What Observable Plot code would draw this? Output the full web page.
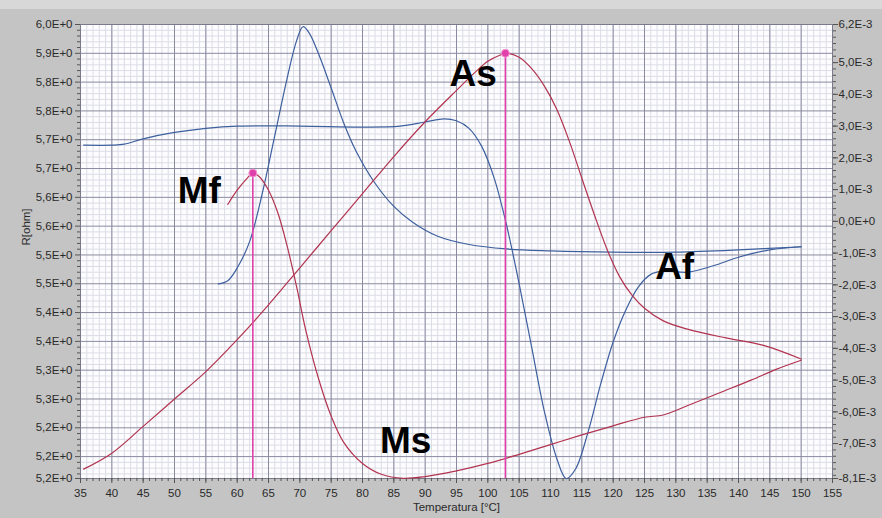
<!DOCTYPE html>
<html><head><meta charset="utf-8">
<script src="https://cdn.jsdelivr.net/npm/d3@7"></script>
<script src="https://cdn.jsdelivr.net/npm/@observablehq/plot@0.6"></script>
<style>
html,body{margin:0;padding:0;}
body{width:882px;height:518px;overflow:hidden;background:linear-gradient(#d8d8d8 0,#d8d8d8 9px,#c4c4c4 9px);}
</style></head><body><div id="chart"></div>
<script>
// ---- data: resistance (left axis, ohm) ----
const heatT = [35.5,40,45,50,55,60,65,70,75,80,85,90,95,98,100,102,103,105,107,109,111,113,115,117,119,121,123,125,128,132,138,144,150];
const heatR = [5.171,5.199,5.246,5.294,5.342,5.398,5.459,5.524,5.589,5.654,5.719,5.780,5.835,5.867,5.886,5.897,5.900,5.893,5.873,5.843,5.802,5.746,5.681,5.617,5.557,5.509,5.476,5.453,5.431,5.416,5.401,5.388,5.364];
const coolT = [58.5,60,61.5,62.5,63.5,65,66.5,68,69.5,71,73,75,77,80,83,86.5,90,95,100,105,110,115,120,125,128,132,137,142,146,150];
const coolR = [5.635,5.660,5.680,5.690,5.684,5.660,5.620,5.561,5.490,5.412,5.329,5.264,5.218,5.181,5.162,5.155,5.158,5.168,5.181,5.197,5.214,5.231,5.247,5.262,5.266,5.283,5.305,5.327,5.346,5.362];
// ---- data: derivative (right axis, E-3) ----
const heatDT = [35.5,40,42,45,50,55,60,70,80,86,90,93,95,97,99,101,103,105,107,109,111,112.5,114,116,118,120,122,124,126,128,132,136,140,145,150];
const heatD = [2.4,2.4,2.43,2.6,2.8,2.93,3.0,3.0,2.97,3.0,3.13,3.23,3.17,2.93,2.37,1.37,-0.13,-1.97,-3.97,-5.97,-7.47,-8.1,-7.8,-6.63,-5.13,-3.8,-2.8,-2.07,-1.67,-1.57,-1.6,-1.4,-1.13,-0.9,-0.8];
const coolDT = [57,58.5,60,62,64,66,68,69.5,70.5,71.5,73,75,77,79,82,85,88,92,97,103,110,120,130,140,150];
const coolD = [-1.97,-1.87,-1.47,-0.63,0.87,2.7,4.53,5.7,6.13,5.93,5.27,4.2,3.1,2.2,1.2,0.47,-0.03,-0.47,-0.73,-0.87,-0.93,-0.97,-0.97,-0.9,-0.8];
// ---- transformation temperatures ----
const peakNames = ["Mf","As"];
const peakT = [62.5,102.8];
const peakR = [5.690,5.900];
const annNames = ["Mf","As","Ms","Af"];
const annT = [50.5,93.9,82.8,126.7];
const annR = [5.638,5.842,5.199,5.505];
// ---- axes ----
const xTicks = d3.range(35,156,5);
const xMinor = d3.range(35,156,1);
const rTop = 5.9505, rStep = 0.0505;
const rBottom = rTop - 15.76*rStep;
const leftLabels = ["6,0E+0","5,9E+0","5,8E+0","5,8E+0","5,7E+0","5,7E+0","5,6E+0","5,6E+0","5,5E+0","5,5E+0","5,4E+0","5,4E+0","5,3E+0","5,3E+0","5,2E+0","5,2E+0","5,2E+0"];
const rightTicks = [6.2,5,4,3,2,1,0,-1,-2,-3,-4,-5,-6,-7,-8.1];
const rightLabels = ["6,2E-3","5,0E-3","4,0E-3","3,0E-3","2,0E-3","1,0E-3","0,0E+0","-1,0E-3","-2,0E-3","-3,0E-3","-4,0E-3","-5,0E-3","-6,0E-3","-7,0E-3","-8,1E-3"];
const dMin = -8.1, dMax = 6.2;

const leftTicks = d3.range(16).map(k => rTop - k*rStep).concat([rBottom]);
const leftMinor = [];
for (let k = 0; k < 16; k++) for (let j = 1; j < 5; j++) { const v = rTop - k*rStep - j*rStep/5; if (v > rBottom + 1e-6) leftMinor.push(v); }
const d2r = d3.scaleLinear().domain([dMin,dMax]).range([rBottom,rTop]);
const rightPos = rightTicks.map(d2r);
const rightMinor = d3.range(-40,31).map(i => d2r(i*0.2));

const zip = (a,b,k) => a.map((t,i) => ({T:t, [k]:b[i]}));
const heat = zip(heatT,heatR,"R"), cool = zip(coolT,coolR,"R");
const heatDer = zip(heatDT,heatD,"D"), coolDer = zip(coolDT,coolD,"D");
const peaks = peakNames.map((n,i) => ({name:n, T:peakT[i], R:peakR[i]}));
const anns = annNames.map((n,i) => ({name:n, T:annT[i], R:annR[i]}));

const red = "#b2334f", blue = "#3d5f9e", mag = "#e040aa";
const chart = Plot.plot({
  width: 882, height: 518,
  marginLeft: 80, marginRight: 50, marginTop: 24, marginBottom: 40,
  style: {background: "transparent", fontFamily: "'Liberation Sans', Arial, sans-serif", fontSize: "11.5px", color: "#2a2a2a"},
  x: {domain: [35,155]},
  y: {domain: [rBottom, rTop]},
  marks: [
    Plot.frame({fill: "#fdfdff", stroke: null}),
    Plot.ruleX(xMinor, {stroke: "#dcdce6"}),
    Plot.ruleY(leftMinor, {stroke: "#dcdce6"}),
    Plot.ruleX(xTicks, {stroke: "#8a8aa0"}),
    Plot.ruleY(leftTicks, {stroke: "#8a8aa0"}),
    Plot.frame({stroke: "#7a7a8a"}),
    Plot.line(heatDer, {x: "T", y: d => d2r(d.D), stroke: blue, strokeWidth: 1.2, curve: "catmull-rom"}),
    Plot.line(coolDer, {x: "T", y: d => d2r(d.D), stroke: blue, strokeWidth: 1.2, curve: "catmull-rom"}),
    Plot.line(heat, {x: "T", y: "R", stroke: red, strokeWidth: 1.2, curve: "catmull-rom"}),
    Plot.line(cool, {x: "T", y: "R", stroke: red, strokeWidth: 1.2, curve: "catmull-rom"}),
    Plot.ruleX(peaks, {x: "T", y1: rBottom, y2: "R", stroke: mag, strokeWidth: 1.6}),
    Plot.dot(peaks, {x: "T", y: "R", r: 4, fill: mag, stroke: "#f59ad6", strokeWidth: 1}),
    Plot.text(anns, {x: "T", y: "R", text: "name", textAnchor: "start", lineAnchor: "bottom", fontSize: 37, fontWeight: "bold", fill: "#000", fontFamily: "'Liberation Sans', Arial, sans-serif"}),
    Plot.axisX(xMinor, {tickSize: 3, tickFormat: () => "", label: null, stroke: "#555"}),
    Plot.axisX(xTicks, {tickSize: 5, tickPadding: 5, label: null, stroke: "#555"}),
    Plot.axisY(leftMinor, {tickSize: 3, tickFormat: () => "", label: null, stroke: "#555"}),
    Plot.axisY(leftTicks, {tickSize: 5, tickPadding: 3, label: null, stroke: "#555", tickFormat: d => leftLabels[leftTicks.indexOf(d)]}),
    Plot.axisY(rightMinor, {anchor: "right", tickSize: 3, tickFormat: () => "", label: null, stroke: "#555"}),
    Plot.axisY(rightPos, {anchor: "right", tickSize: 5, tickPadding: 1, label: null, stroke: "#555", tickFormat: d => rightLabels[rightPos.indexOf(d)]}),
    Plot.text(["Temperatura [°C]"], {frameAnchor: "bottom", dy: 32, text: d => d, fontSize: 11.5}),
    Plot.text(["R[ohm]"], {frameAnchor: "left", dx: -54, dy: -6, rotate: -90, text: d => d, fontSize: 11.5})
  ]
});
document.getElementById("chart").appendChild(chart);
</script></body></html>
